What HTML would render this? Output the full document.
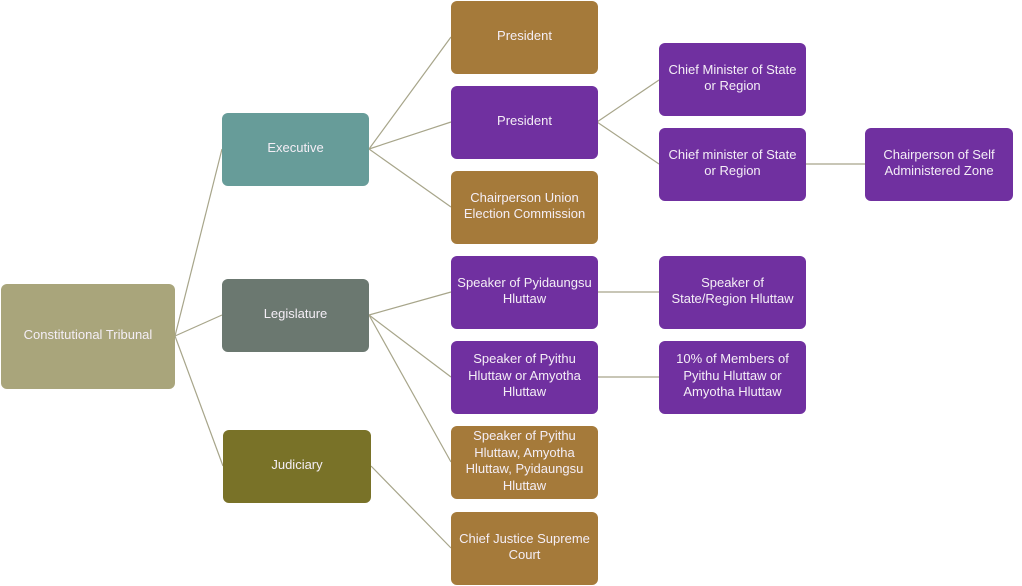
<!DOCTYPE html>
<html><head><style>
body{margin:0;width:1022px;height:586px;background:#fff;position:relative;overflow:hidden;font-family:"Liberation Sans",sans-serif;}
.b{position:absolute;border-radius:6px;color:#f4eef6;font-size:13px;line-height:16.5px;display:flex;align-items:center;justify-content:center;text-align:center;box-sizing:border-box;padding:0 1px 3px;white-space:nowrap;}
.p{background:#7030a0}.o{background:#a57a3a}
svg{position:absolute;left:0;top:0}
</style></head><body>
<svg width="1022" height="586"><g stroke="#a7a58a" stroke-width="1.2" fill="none">
<line x1="175" y1="336" x2="222" y2="149"/>
<line x1="175" y1="336" x2="222" y2="315"/>
<line x1="175" y1="336" x2="223" y2="466"/>
<line x1="369" y1="149" x2="451" y2="37"/>
<line x1="369" y1="149" x2="451" y2="122"/>
<line x1="369" y1="149" x2="451" y2="207"/>
<line x1="369" y1="315" x2="451" y2="292"/>
<line x1="369" y1="315" x2="451" y2="377"/>
<line x1="369" y1="315" x2="451" y2="462"/>
<line x1="371" y1="466" x2="451" y2="548"/>
<line x1="597" y1="122" x2="659" y2="80"/>
<line x1="597" y1="122" x2="659" y2="164"/>
<line x1="805" y1="164" x2="866" y2="164"/>
<line x1="597" y1="292" x2="659" y2="292"/>
<line x1="597" y1="377" x2="659" y2="377"/>
</g></svg>
<div class="b" style="left:1px;top:284px;width:174px;height:105px;background:#a9a57b">Constitutional Tribunal</div>
<div class="b" style="left:222px;top:113px;width:147px;height:73px;background:#679c99">Executive</div>
<div class="b" style="left:222px;top:279px;width:147px;height:73px;background:#6b7870">Legislature</div>
<div class="b" style="left:223px;top:430px;width:148px;height:73px;background:#797228">Judiciary</div>
<div class="b o" style="left:451px;top:1px;width:147px;height:73px">President</div>
<div class="b p" style="left:451px;top:86px;width:147px;height:73px">President</div>
<div class="b o" style="left:451px;top:171px;width:147px;height:73px">Chairperson Union<br>Election Commission</div>
<div class="b p" style="left:451px;top:256px;width:147px;height:73px">Speaker of Pyidaungsu<br>Hluttaw</div>
<div class="b p" style="left:451px;top:341px;width:147px;height:73px">Speaker of Pyithu<br>Hluttaw or Amyotha<br>Hluttaw</div>
<div class="b o" style="left:451px;top:426px;width:147px;height:73px">Speaker of Pyithu<br>Hluttaw, Amyotha<br>Hluttaw, Pyidaungsu<br>Hluttaw</div>
<div class="b o" style="left:451px;top:512px;width:147px;height:73px">Chief Justice Supreme<br>Court</div>
<div class="b p" style="left:659px;top:43px;width:147px;height:73px">Chief Minister of State<br>or Region</div>
<div class="b p" style="left:659px;top:128px;width:147px;height:73px">Chief minister of State<br>or Region</div>
<div class="b p" style="left:865px;top:128px;width:148px;height:73px">Chairperson of Self<br>Administered Zone</div>
<div class="b p" style="left:659px;top:256px;width:147px;height:73px">Speaker of<br>State/Region Hluttaw</div>
<div class="b p" style="left:659px;top:341px;width:147px;height:73px">10% of Members of<br>Pyithu Hluttaw or<br>Amyotha Hluttaw</div>
</body></html>
